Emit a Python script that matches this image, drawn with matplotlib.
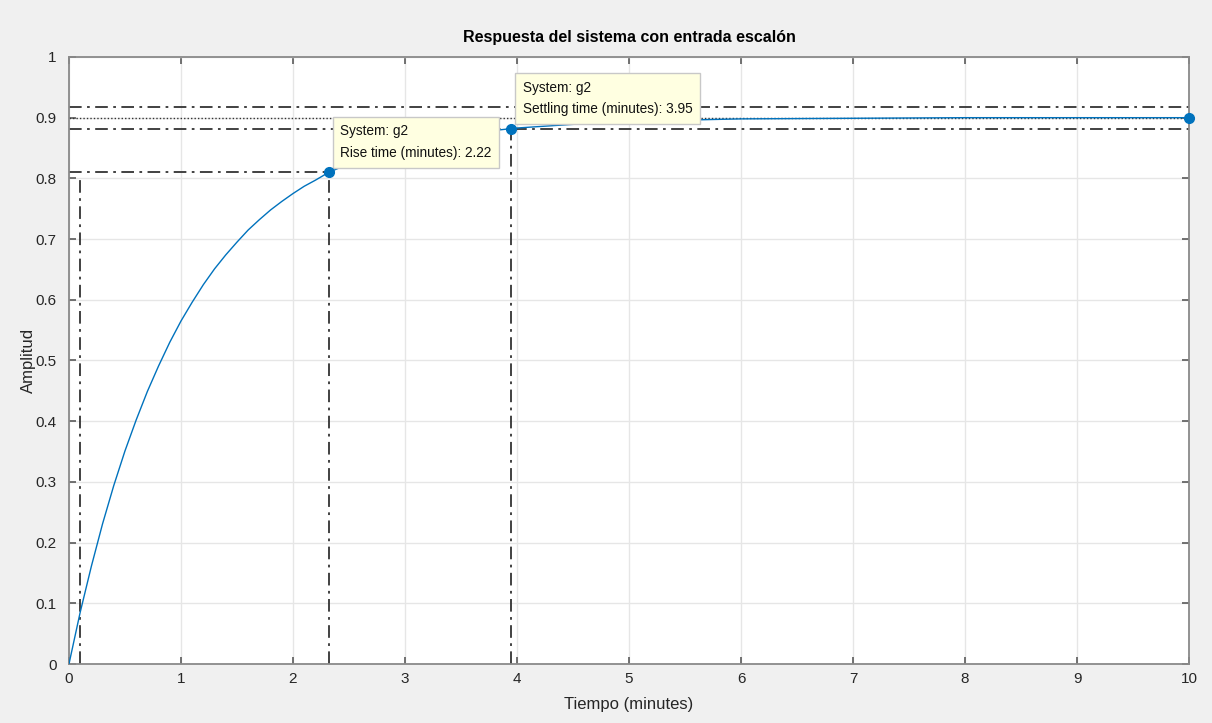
import matplotlib.pyplot as plt
import numpy as np

plt.rcParams["font.family"] = ["Liberation Sans", "DejaVu Sans"]

# respuesta al escalón de g2 (tiempo en minutos)
t = [0, 0.1, 0.2, 0.3, 0.4, 0.5, 0.6, 0.7, 0.8, 0.9, 1.0, 1.1, 1.2, 1.3, 1.4,
     1.5, 1.6, 1.7, 1.8, 1.9, 2.0, 2.1, 2.2, 2.32, 2.5, 2.75, 3.0, 3.25, 3.5,
     3.75, 4.0, 4.5, 5.0, 5.5, 6.0, 7.0, 8.0, 10.0]
y = [0, 0.085, 0.161, 0.231, 0.294, 0.351, 0.402, 0.449, 0.491, 0.530, 0.565,
     0.596, 0.625, 0.651, 0.674, 0.695, 0.715, 0.732, 0.748, 0.762, 0.775,
     0.787, 0.797, 0.810, 0.824, 0.841, 0.853, 0.863, 0.872, 0.878, 0.883,
     0.889, 0.894, 0.896, 0.898, 0.899, 0.900, 0.900]

y_final = 0.9
t10 = 0.10
t90 = 2.32
y90 = 0.81
t_settle = 3.95
y_settle = 0.882
band = [0.882, 0.918]

azul = (0.0, 0.447, 0.741)
gris = "#262626"

fig = plt.figure(figsize=(12.12, 7.23), dpi=100, facecolor="#f0f0f0")
ax = fig.add_axes([0.0569, 0.0816, 0.9242, 0.8396])
ax.set_facecolor("white")

ax.plot(t, y, color=azul, lw=1.0, zorder=3)

# lineas de caracteristicas
dd = (0, (7, 3, 1.5, 3))
ax.plot([0, 10], [y_final, y_final], color="#333333", lw=1.0, ls=(0, (1, 1.5)), zorder=2)
for b in band:
    ax.plot([0, 10], [b, b], color="#333333", lw=1.3, ls=dd, zorder=2)
ax.plot([0, t90], [y90, y90], color="#333333", lw=1.3, ls=dd, zorder=2)
ax.plot([t10, t10], [0, y90 - 0.01], color="#333333", lw=1.3, ls=dd, zorder=2)
ax.plot([t90, t90], [0, y90], color="#333333", lw=1.3, ls=dd, zorder=2)
ax.plot([t_settle, t_settle], [0, y_settle], color="#333333", lw=1.3, ls=dd, zorder=2)

ax.plot([t90, t_settle, 10], [y90, y_settle, y_final], "o", color=azul, ms=7,
        zorder=7, clip_on=False)

caja = dict(boxstyle="square,pad=0.55", fc="#ffffe1", ec="#c8c8c8", lw=1)
ax.text(t90 + 0.1, y90 + 0.02,
        "System: g2\nRise time (minutes): %.2f" % (t90 - t10),
        fontsize=9.8, color="#111111", va="bottom", ha="left",
        linespacing=1.7, bbox=caja, zorder=6)
ax.text(t_settle + 0.1, y_settle + 0.02,
        "System: g2\nSettling time (minutes): %.2f" % t_settle,
        fontsize=9.8, color="#111111", va="bottom", ha="left",
        linespacing=1.7, bbox=caja, zorder=6)

ax.set_xlim(0, 10)
ax.set_ylim(0, 1)
ax.set_xticks(np.arange(0, 11, 1))
ax.set_yticks(np.arange(0, 1.01, 0.1))
ax.set_yticklabels(["0", "0.1", "0.2", "0.3", "0.4", "0.5", "0.6", "0.7", "0.8", "0.9", "1"])
ax.grid(True, color="#e6e6e6", lw=1)
ax.set_axisbelow(True)
ax.tick_params(direction="in", length=5, width=1.2, colors="#5a5a5a",
               labelcolor=gris, labelsize=11, top=True, right=True)
ax.tick_params(axis="y", pad=9)
ax.tick_params(axis="x", pad=6)
for s in ax.spines.values():
    s.set_color("#8a8a8a")
    s.set_linewidth(1.3)

ax.set_title("Respuesta del sistema con entrada escalón", fontsize=11.5,
             fontweight="bold", color="black", pad=11)
ax.set_xlabel("Tiempo (minutes)", fontsize=12, color=gris, labelpad=8)
ax.set_ylabel("Amplitud", fontsize=12, color=gris)
ax.yaxis.set_label_coords(-0.0295, 0.5)

fig.savefig("out.png", dpi=100, facecolor=fig.get_facecolor())
